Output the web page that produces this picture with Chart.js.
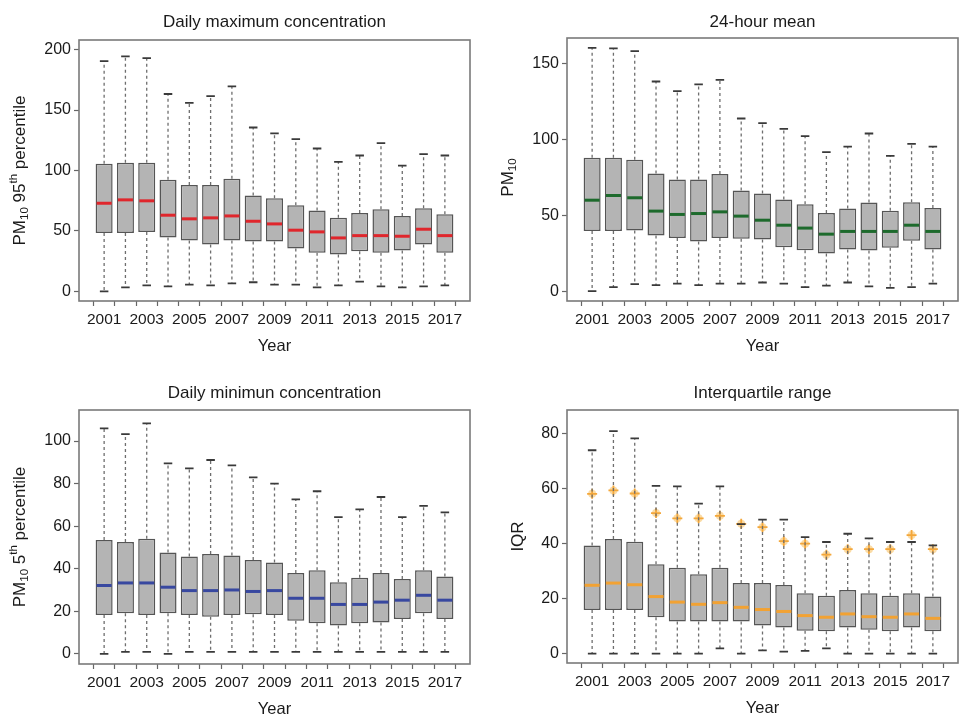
<!DOCTYPE html>
<html>
<head>
<meta charset="utf-8">
<script src="https://cdn.jsdelivr.net/npm/chart.js@4.4.0/dist/chart.umd.min.js"></script>
<style>
  body { margin: 0; background: #fff; }
  #wrap { position: relative; width: 970px; height: 726px; }
  canvas { position: absolute; }
</style>
</head>
<body>
<div id="wrap">
  <canvas id="max-chart" width="485" height="363" style="left:0;top:0"></canvas>
  <canvas id="mean-chart" width="485" height="363" style="left:485px;top:0"></canvas>
  <canvas id="min-chart" width="485" height="363" style="left:0;top:363px"></canvas>
  <canvas id="iqr-chart" width="485" height="363" style="left:485px;top:363px"></canvas>
</div>
<script>
const years = ['2001', '2002', '2003', '2004', '2005', '2006', '2007', '2008', '2009',
  '2010', '2011', '2012', '2013', '2014', '2015', '2016', '2017'];

// daily maximum concentration (PM10 95th percentile)
const maxHigh = [190.6, 194.5, 193, 163.3, 156, 161.6, 169.6, 135.6, 130.7, 126, 118.2, 107.2, 112.4, 122.7, 104.1, 113.5, 112.4];
const maxQ3 = [105.5, 106.4, 106.4, 92.3, 88.1, 88.1, 93.1, 79.3, 77.1, 71.3, 66.9, 60.8, 64.9, 68, 62.4, 68.8, 63.8];
const maxMed = [72.9, 75.7, 74.9, 63, 60, 60.8, 62.4, 58, 55.8, 50.6, 49.2, 44.2, 46.1, 46.1, 45.6, 51.4, 46.1];
const maxQ1 = [48.3, 48.3, 49.2, 44.5, 42, 38.7, 42, 41.2, 41.2, 35.4, 32, 30.4, 33.1, 32, 33.7, 38.7, 32];
const maxLow = [0, 3.3, 5, 4.1, 5.5, 5, 6.6, 7.5, 5.5, 5.5, 3.3, 5, 8, 4.1, 3.3, 4.1, 5];
const maxTicks = [0, 50, 100, 150, 200];

// 24-hour mean
const meanHigh = [160.5, 160.1, 158.3, 138.3, 132, 136.4, 139.4, 113.9, 110.8, 107.1, 102.3, 91.7, 95.4, 104, 89.3, 97.2, 95.4];
const meanQ3 = [88, 88, 86.7, 77.6, 73.7, 73.7, 77.2, 66.4, 64.4, 60.5, 57.4, 51.5, 54.5, 58.5, 53, 58.7, 54.8];
const meanMed = [60, 63.1, 61.6, 52.8, 50.6, 51.2, 52.3, 49.5, 46.8, 43.5, 41.6, 37.6, 39.4, 39.4, 39.4, 43.5, 39.4];
const meanQ1 = [39.6, 39.6, 40, 36.7, 35, 32.8, 35, 34.5, 34.1, 29, 27, 24.9, 27.5, 26.8, 28.6, 33.2, 27.5];
const meanLow = [0, 2.6, 4.6, 4, 5, 4, 5, 5, 5.7, 5, 2.6, 3.7, 5.7, 3.1, 2.2, 2.6, 5];
const meanTicks = [0, 50, 100, 150];

// daily minimum concentration (PM10 5th percentile)
const minHigh = [106, 103.3, 108.3, 89.5, 87.2, 91.1, 88.6, 82.9, 80, 72.6, 76.4, 64.2, 67.9, 73.7, 64.2, 69.5, 66.5];
const minQ3 = [53.5, 52.6, 54.1, 47.6, 45.7, 46.9, 46.2, 44.1, 42.9, 38, 39.3, 33.6, 35.7, 38, 35.1, 39.3, 36.3];
const minMed = [32.1, 33.3, 33.3, 31.3, 29.7, 29.7, 30, 29.3, 29.7, 26.1, 26.1, 23.2, 23.2, 24.3, 25.2, 27.5, 25.2];
const minQ1 = [18.2, 19.1, 18.2, 19.1, 18.2, 17.4, 18.2, 18.6, 18.2, 15.5, 14.4, 13.3, 14.4, 14.7, 16.3, 19.1, 16.3];
const minLow = [0, 0.9, 0.9, 0, 0.9, 0.9, 0.9, 0.9, 0.9, 0.9, 0.9, 0.9, 0.9, 0.9, 0.9, 0.9, 0.9];
const minTicks = [0, 20, 40, 60, 80, 100];

// interquartile range
const iqrHigh = [73.8, 80.7, 78.1, 60.9, 60.7, 54.4, 60.7, 47, 48.6, 48.6, 42.3, 40.5, 43.5, 41.8, 40.5, 40.5, 39.3];
const iqrQ3 = [39.2, 41.6, 40.6, 32.4, 31.2, 28.8, 31.2, 25.6, 25.6, 24.9, 21.9, 21, 23.1, 21.9, 21, 21.9, 20.7];
const iqrMed = [24.8, 25.6, 25, 20.7, 18.7, 17.9, 18.5, 16.8, 16, 15.3, 13.8, 13.2, 14.4, 13.4, 13.2, 14.4, 12.8];
const iqrQ1 = [15.8, 15.8, 15.8, 13.2, 11.7, 11.7, 11.7, 11.7, 10.2, 9.5, 8.3, 8.1, 9.5, 8.7, 8.1, 9.5, 8.1];
const iqrLow = [0, 0, 0, 0, 0, 0, 1.9, 0, 1.2, 0.7, 1, 1.9, 0, 0, 0, 0, 0];
const iqrStar = [58, 59.2, 58.1, 51, 49.1, 49.1, 50, 47.1, 45.9, 40.8, 39.9, 35.9, 37.9, 37.9, 37.9, 43, 37.9];
const iqrTicks = [0, 20, 40, 60, 80];

const FONT = "'Liberation Sans', Arial, sans-serif";
const CANVAS_H = 363;

// whiskers, caps and medians on top of the floating bars
const boxExtras = {
  id: 'boxExtras',
  afterDatasetsDraw(chart, args, opts) {
    const ctx = chart.ctx;
    const x = chart.scales.x;
    const y = chart.scales.y;
    const bars = chart.getDatasetMeta(0).data;
    ctx.save();
    bars.forEach((bar, i) => {
      const cx = x.getPixelForValue(i + 1);
      const half = bar.width / 2;
      const yHigh = y.getPixelForValue(opts.high[i]);
      const yLow = y.getPixelForValue(opts.low[i]);
      const yQ3 = y.getPixelForValue(opts.q3[i]);
      const yQ1 = y.getPixelForValue(opts.q1[i]);
      // dashed whiskers
      ctx.strokeStyle = '#6e6e6e';
      ctx.lineWidth = 1.3;
      ctx.setLineDash([3, 3]);
      ctx.beginPath();
      ctx.moveTo(cx, yQ3); ctx.lineTo(cx, yHigh);
      ctx.moveTo(cx, yQ1); ctx.lineTo(cx, yLow);
      ctx.stroke();
      // caps
      ctx.setLineDash([]);
      ctx.strokeStyle = '#3a3a3a';
      ctx.lineWidth = 1.8;
      ctx.beginPath();
      ctx.moveTo(cx - half / 2, yHigh); ctx.lineTo(cx + half / 2, yHigh);
      ctx.moveTo(cx - half / 2, yLow); ctx.lineTo(cx + half / 2, yLow);
      ctx.stroke();
      // median
      const yMed = y.getPixelForValue(opts.med[i]);
      ctx.strokeStyle = opts.medColor;
      ctx.lineWidth = 3;
      ctx.beginPath();
      ctx.moveTo(cx - half + 1, yMed); ctx.lineTo(cx + half - 1, yMed);
      ctx.stroke();
    });
    ctx.restore();
  }
};

// frame, titles and rotated y title with sub/superscripts
const panelText = {
  id: 'panelText',
  afterDraw(chart, args, opts) {
    const ctx = chart.ctx;
    const a = chart.chartArea;
    const cx = (a.left + a.right) / 2;
    ctx.save();
    ctx.strokeStyle = '#7a7a7a';
    ctx.lineWidth = 1.6;
    ctx.strokeRect(a.left, a.top, a.right - a.left, a.bottom - a.top);

    ctx.fillStyle = '#1a1a1a';
    ctx.textAlign = 'center';
    ctx.textBaseline = 'middle';
    ctx.font = '17px ' + FONT;
    ctx.fillText(opts.title, cx, opts.titleY);
    ctx.font = '16.5px ' + FONT;
    ctx.fillText('Year', cx, a.bottom + 45);

    // y title
    const segs = opts.yTitle;
    const big = '17px ' + FONT;
    const small = '11.5px ' + FONT;
    let total = 0;
    segs.forEach(s => {
      ctx.font = s.sub || s.sup ? small : big;
      s.w = ctx.measureText(s.t).width;
      total += s.w;
    });
    ctx.translate(opts.yTitleX, (a.top + a.bottom) / 2 + (opts.yShift || 0));
    ctx.rotate(-Math.PI / 2);
    ctx.textAlign = 'left';
    let px = -total / 2;
    segs.forEach(s => {
      ctx.font = s.sub || s.sup ? small : big;
      const dy = s.sub ? 5 : (s.sup ? -6 : 0);
      ctx.fillText(s.t, px, dy);
      px += s.w;
    });
    ctx.restore();
  }
};

const makePanel = (canvasId, cfg) => new Chart(document.getElementById(canvasId), {
  type: 'bar',
  data: {
    datasets: [{
      data: years.map((yr, i) => ({ x: i + 1, y: [cfg.q1[i], cfg.q3[i]] })),
      backgroundColor: '#b4b4b4',
      borderColor: '#555',
      borderWidth: 1.5,
      borderSkipped: false,
      categoryPercentage: 1,
      barPercentage: 0.8,
      order: 3
    }].concat(cfg.extra || [])
  },
  options: {
    responsive: false,
    animation: false,
    layout: { padding: { left: 0, right: 485 - cfg.right, top: cfg.top, bottom: 0 } },
    scales: {
      x: {
        type: 'linear',
        offset: false,
        min: -0.18,
        max: 18.18,
        afterBuildTicks: s => { s.ticks = years.map((yr, i) => ({ value: i + 1 })); },
        afterFit: s => { s.height = CANVAS_H - cfg.bottom; },
        grid: { drawOnChartArea: false, drawTicks: true, tickLength: 5, tickColor: '#666', tickWidth: 1.2 },
        border: { display: false },
        ticks: {
          autoSkip: false,
          maxRotation: 0,
          padding: 4,
          color: '#1a1a1a',
          font: { family: FONT, size: 15.5 },
          callback: v => ((v - 1) % 2 === 0 ? years[v - 1] : '')
        }
      },
      y: {
        min: cfg.min,
        max: cfg.max,
        afterBuildTicks: s => { s.ticks = cfg.ticks.map(v => ({ value: v })); },
        afterFit: s => { s.width = cfg.left; },
        grid: { drawOnChartArea: false, drawTicks: true, tickLength: 5, tickColor: '#666', tickWidth: 1.2 },
        border: { display: false },
        ticks: {
          padding: 3,
          color: '#1a1a1a',
          font: { family: FONT, size: 16 }
        }
      }
    },
    plugins: {
      legend: { display: false },
      tooltip: { enabled: false },
      boxExtras: { high: cfg.high, q3: cfg.q3, med: cfg.med, q1: cfg.q1, low: cfg.low, medColor: cfg.medColor },
      panelText: { title: cfg.title, titleY: cfg.titleY, yTitle: cfg.yTitle, yTitleX: cfg.yTitleX, yShift: cfg.yShift }
    }
  },
  plugins: [boxExtras, panelText]
});

const maxChart = makePanel('max-chart', {
  high: maxHigh, q3: maxQ3, med: maxMed, q1: maxQ1, low: maxLow, ticks: maxTicks,
  min: -8, max: 208, left: 79, right: 470, top: 40, bottom: 301,
  medColor: '#e0262c', title: 'Daily maximum concentration', titleY: 22, yTitleX: 20,
  yTitle: [{ t: 'PM' }, { t: '10', sub: true }, { t: ' 95' }, { t: 'th', sup: true }, { t: ' percentile' }]
});

const meanChart = makePanel('mean-chart', {
  high: meanHigh, q3: meanQ3, med: meanMed, q1: meanQ1, low: meanLow, ticks: meanTicks,
  min: -6.5, max: 167, left: 82, right: 473, top: 38, bottom: 301,
  medColor: '#1d6a2c', title: '24-hour mean', titleY: 22, yTitleX: 23, yShift: 8,
  yTitle: [{ t: 'PM' }, { t: '10', sub: true }]
});

const minChart = makePanel('min-chart', {
  high: minHigh, q3: minQ3, med: minMed, q1: minQ1, low: minLow, ticks: minTicks,
  min: -4.8, max: 114.6, left: 79, right: 470, top: 47, bottom: 301,
  medColor: '#3848a0', title: 'Daily minimun concentration', titleY: 30, yTitleX: 20,
  yTitle: [{ t: 'PM' }, { t: '10', sub: true }, { t: ' 5' }, { t: 'th', sup: true }, { t: ' percentile' }]
});

const iqrChart = makePanel('iqr-chart', {
  high: iqrHigh, q3: iqrQ3, med: iqrMed, q1: iqrQ1, low: iqrLow, ticks: iqrTicks,
  min: -3.4, max: 88.4, left: 82, right: 473, top: 47, bottom: 300,
  medColor: '#f2a233', title: 'Interquartile range', titleY: 30, yTitleX: 33,
  yTitle: [{ t: 'IQR' }],
  extra: [{
    // soft halo behind the plus marks
    type: 'scatter',
    data: years.map((yr, i) => ({ x: i + 1, y: iqrStar[i] })),
    pointStyle: 'circle',
    radius: 4,
    borderWidth: 0,
    backgroundColor: 'rgba(248, 190, 90, 0.55)',
    order: 2
  }, {
    type: 'scatter',
    data: years.map((yr, i) => ({ x: i + 1, y: iqrStar[i] })),
    pointStyle: 'cross',
    radius: 5,
    borderWidth: 1.8,
    borderColor: '#f4a73a',
    order: 1
  }]
});
</script>
</body>
</html>
